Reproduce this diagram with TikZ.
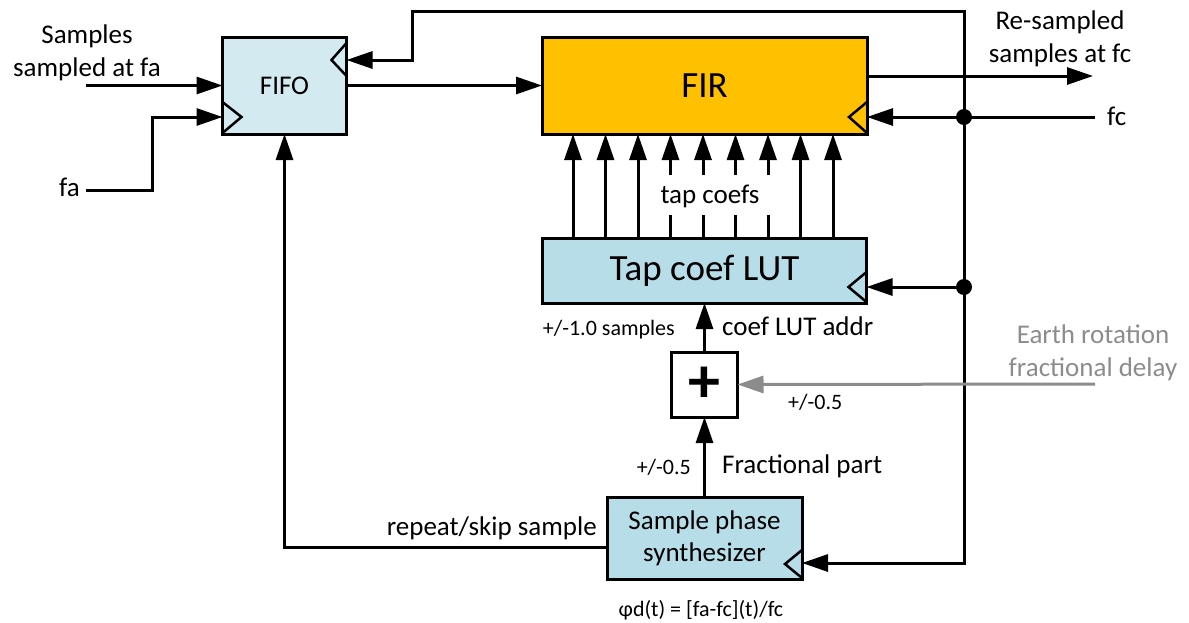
\documentclass[tikz,border=0pt]{standalone}
\usepackage{fontspec}
\setmainfont{Carlito}
\usetikzlibrary{arrows.meta,calc}

\definecolor{fifoblue}{HTML}{D3EAF1}
\definecolor{lutblue}{HTML}{B7DDE8}
\definecolor{firorange}{HTML}{FFC000}
\definecolor{notegray}{HTML}{8C8C8C}

\tikzset{
  blk/.style={draw, line width=3pt, inner sep=0pt, outer sep=0pt, align=center},
  arr/.style={line width=3pt, -{Triangle[length=26pt,width=17pt]}},
  clk/.style={line width=2.5pt, line join=miter},
  lbl/.style={inner sep=0pt, font=\fontsize{27}{32.5}\selectfont},
  small/.style={inner sep=0pt, font=\fontsize{22}{27}\selectfont},
}

\begin{document}
\begin{tikzpicture}[x=1pt,y=-1pt]
\useasboundingbox (0,0) rectangle (1189,622);

% blocks
\node[blk, fill=fifoblue, minimum width=124pt, minimum height=97pt,
      font=\fontsize{27}{32}\selectfont] (fifo) at (284.5,85.5) {FIFO};
\node[blk, fill=firorange, minimum width=325pt, minimum height=97pt,
      font=\fontsize{37}{44}\selectfont] (fir) at (704.5,85.5) {FIR};
\node[blk, fill=lutblue, minimum width=324pt, minimum height=65pt,
      font=\fontsize{37}{44}\selectfont] (lut) at (704.5,270.5) {Tap coef LUT};
\node[blk, fill=white, minimum width=66pt, minimum height=65pt,
      font=\bfseries\fontsize{64}{64}\selectfont] (plus) at (704.5,384.5) {+};
\node[blk, fill=lutblue, minimum width=195pt, minimum height=82pt,
      font=\fontsize{27}{32}\selectfont] (synth) at (704.5,538) {Sample phase\\synthesizer};

% clock inputs
\draw[clk] ($(fifo.south west)+(0,-32)$) -- ++(19,15) -- ++(-19,16);
\draw[clk] ($(fifo.north east)+(0,6)$) -- ++(-15,17) -- ++(15,16);
\draw[clk] ($(fir.south east)+(0,-32)$) -- ++(-18,15) -- ++(18,16);
\draw[clk] ($(lut.south east)+(0,-31)$) -- ++(-18,15) -- ++(18,15);
\draw[clk] ($(synth.south east)+(0,-29)$) -- ++(-17,14) -- ++(17,14);

% free ends and junctions
\coordinate (sin) at (86,85.5);
\coordinate (fa) at (86,190);
\coordinate (fc) at (1095,117);
\coordinate (out) at (1093,76);
\coordinate (earth) at (1095,384);
\coordinate (j1) at (964,117);
\coordinate (j2) at (964,287);
\coordinate (bus) at (964,11);
\coordinate (fb) at (412,11);

% data path
\draw[arr] (sin) -- (fifo.west);
\draw[arr] (fa) -- ++(66,0) |- ($(fifo.south west)+(0,-17)$);
\draw[arr] (fifo.east) -- (fir.west);
\draw[arr] (fir.east |- out) -- (out);

% fc clock distribution
\draw[arr] (fc) -- ($(fir.south east)+(0,-17)$);
\draw[arr] (j1) -- (bus) -- (fb) |- ($(fifo.north east)+(0,23)$);
\draw[arr] (j1) |- ($(synth.south east)+(0,-16)$);
\draw[arr] (j2) -- ($(lut.south east)+(0,-16)$);
\fill (j1) circle[radius=8pt];
\fill (j2) circle[radius=8pt];

% tap coefficients
\foreach \k in {-4,-3,-2,3,4}
  \draw[arr] ($(lut.north)+(\k*32.5-1.5,0)$) -- ($(fir.south)+(\k*32.5-1.5,0)$);
\foreach \k in {-1,0,1,2}
  \draw[arr] ($(lut.north)+(\k*32.5-1.5,0)$) -- ++(0,-23) ++(0,-40)
             -- ($(fir.south)+(\k*32.5-1.5,0)$);

% address path
\draw[arr] (synth.north) -- (plus.south);
\draw[arr] (plus.north) -- (lut.south);
\draw[arr, color=notegray] (earth) -- (plus.east);
\draw[arr] ($(synth.west)+(0,9)$) -| (fifo.south);

% labels
\node[lbl, align=center] (lsamples) at (87,53) {Samples\\sampled at fa};
\node[lbl, anchor=base east] (lfa) at (80,196) {fa};
\node[lbl, align=center] (lout) at (1060,39) {Re-sampled\\samples at fc};
\node[lbl, anchor=base west] (lfc) at (1107,125) {fc};
\node[lbl, anchor=base] (ltap) at (710,203) {tap coefs};
\node[small, anchor=base east] (lrange) at (675,335) {+/-1.0 samples};
\node[lbl, anchor=base west] (laddr) at (722,335) {coef LUT addr};
\node[lbl, align=center, text=notegray] (learth) at (1093,353) {Earth rotation\\fractional delay};
\node[small, anchor=base west] (lhalfa) at (788,409) {+/-0.5};
\node[small, anchor=base east] (lhalfb) at (691,474) {+/-0.5};
\node[lbl, anchor=base west] (lfrac) at (722,473) {Fractional part};
\node[lbl, anchor=base east] (lskip) at (597,535) {repeat/skip sample};
\node[small, anchor=base] (lphase) at (701,616) {φd(t) = [fa-fc](t)/fc};
\end{tikzpicture}
\end{document}
